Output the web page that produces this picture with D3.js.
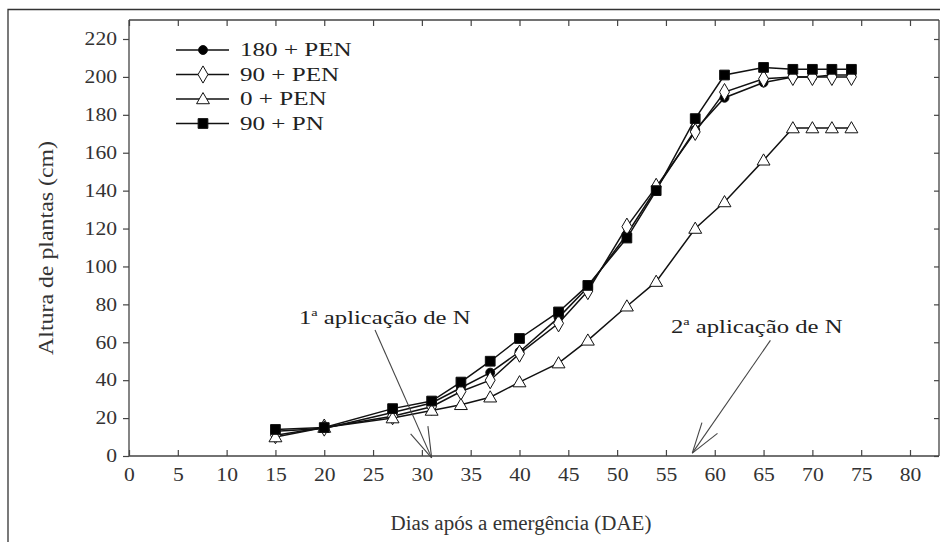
<!DOCTYPE html>
<html><head><meta charset="utf-8">
<script src="https://cdn.jsdelivr.net/npm/d3@7/dist/d3.min.js"></script>
<style>
html,body{margin:0;padding:0;background:#fff;}
svg{display:block;}
</style></head><body>
<svg id="c" width="940" height="542"></svg>
<script>
// ---- data ----
const days = [15,20,27,31,34,37,40,44,47,51,54,58,61,65,68,70,72,74];
const s180PEN = [13,14.5,23,28,36,44,55,73,89,117,141,172,189,197,200,200,201,201];
const s90PEN  = [11,15,21,26,34,40,54,70,87,121,142,171,192,199,200,200,200,200];
const s0PEN   = [10,15,20,24,27,31,39,49,61,79,92,120,134,156,173,173,173,173];
const s90PN   = [14,15,25,29,39,50,62,76,90,115,140,178,201,205,204,204,204,204];
const seriesNames = ["180 + PEN","90 + PEN","0 + PEN","90 + PN"];
const seriesMarkers = ["circle","diamond","triangle","square"];
const seriesFill = ["#000","#fff","#fff","#000"];
const xTicks = d3.range(0,81,5);
const yTicks = d3.range(0,221,20);
const annotations = [
  {label:"1", sup:"a", rest:" aplicação de N", tx:26.2, ty:69.6, fromX:25.2, fromY:66.5, toX:31, toY:-1},
  {label:"2", sup:"a", rest:" aplicação de N", tx:64.3, ty:65, fromX:65.7, fromY:61, toX:57.7, toY:1.5}
];

// ---- layout ----
const svg = d3.select("#c");
const x = d3.scaleLinear().domain([0,80]).range([129,910]);
const y = d3.scaleLinear().domain([0,220]).range([456,39]);
const pLeft = 129, pRight = 939, pTop = 20, pBottom = 456;
const FONT = '"Liberation Serif"';
function stretch(sel, f){
  sel.each(function(){
    const w = this.getComputedTextLength();
    if (w>0) d3.select(this).attr("textLength", w*f).attr("lengthAdjust","spacingAndGlyphs");
  });
}

// outer frame
svg.append("path").attr("d","M8,542 V9.5 H940").attr("fill","none").attr("stroke","#333").attr("stroke-width",1.3);

// plot box
const g = svg.append("g");
g.append("path").attr("d",`M${pLeft},${pTop} H${pRight} M${pLeft},${pTop} V${pBottom} H${pRight} M${pRight},${pTop} V${pBottom}`)
  .attr("fill","none").attr("stroke","#444").attr("stroke-width",1.3);

const xb = g.append("g").attr("transform",`translate(0,${pBottom})`)
  .call(d3.axisBottom(x).tickValues(xTicks).tickSize(-6).tickPadding(12).tickFormat(d3.format("d")));
const xt = g.append("g").attr("transform",`translate(0,${pTop})`)
  .call(d3.axisTop(x).tickValues(xTicks).tickSize(-6).tickFormat(""));
const yl = g.append("g").attr("transform",`translate(${pLeft},0)`)
  .call(d3.axisLeft(y).tickValues(yTicks).tickSize(6).tickPadding(6).tickFormat(d3.format("d")));
const yr = g.append("g").attr("transform",`translate(${pRight},0)`)
  .call(d3.axisRight(y).tickValues(yTicks).tickSize(-5).tickFormat(""));
[xb,xt,yl,yr].forEach(a=>{
  a.select(".domain").remove();
  a.selectAll(".tick line").attr("stroke","#444").attr("stroke-width",1.2);
  a.selectAll("text").style("font-family",FONT).style("font-size","18px").attr("fill","#333");
  stretch(a.selectAll("text"), 1.2);
});

// axis titles
const xtitle = svg.append("text").attr("x",521).attr("y",530).attr("text-anchor","middle")
  .style("font-family",FONT).style("font-size","20px").attr("fill","#333").text("Dias após a emergência (DAE)");
stretch(xtitle, 1.05);
svg.append("text").attr("transform","translate(53,248) rotate(-90)").attr("text-anchor","middle")
  .style("font-family",FONT).style("font-size","20px").attr("fill","#333")
  .attr("textLength",214).attr("lengthAdjust","spacingAndGlyphs").text("Altura de plantas (cm)");

function marker(sel, type, fill, cx, cy){
  const s = {circle:d3.symbolCircle, diamond:d3.symbolDiamond, triangle:d3.symbolTriangle, square:d3.symbolSquare}[type];
  const size = {circle:62, diamond:85, triangle:72, square:95}[type];
  sel.append("path").attr("d", d3.symbol().type(s).size(size)())
    .attr("transform",`translate(${cx},${cy + (type==="triangle"?1:0)})`)
    .attr("fill",fill).attr("stroke","#111").attr("stroke-width",1);
}

const allSeries = [s180PEN, s90PEN, s0PEN, s90PN];
const line = d3.line().x((d,i)=>x(days[i])).y(d=>y(d));
allSeries.forEach(vals=>{
  g.append("path").datum(vals).attr("d",line).attr("fill","none").attr("stroke","#111").attr("stroke-width",1.5);
});
allSeries.forEach((vals,k)=>{
  const mg = g.append("g");
  vals.forEach((v,i)=>marker(mg, seriesMarkers[k], seriesFill[k], x(days[i]), y(v)));
});

// legend
const leg = svg.append("g");
seriesNames.forEach((n,k)=>{
  const yy = 50 + k*24.5;
  leg.append("line").attr("x1",176).attr("x2",229).attr("y1",yy).attr("y2",yy).attr("stroke","#111").attr("stroke-width",1.5);
  marker(leg, seriesMarkers[k], seriesFill[k], 203, yy);
  const t = leg.append("text").attr("x",240).attr("y",yy+6).style("font-family",FONT).style("font-size","19px").attr("fill","#222").text(n);
  stretch(t, 1.32);
});

// annotations
annotations.forEach(a=>{
  const t = svg.append("text").attr("x",x(a.tx)).attr("y",y(a.ty)).attr("text-anchor","middle")
    .style("font-family",FONT).style("font-size","19px").attr("fill","#222");
  t.append("tspan").text(a.label);
  t.append("tspan").style("font-size","11px").attr("dy",-8).text(a.sup);
  t.append("tspan").attr("dy",8).text(a.rest);
  stretch(t, 1.3);
  const x1=x(a.fromX), y1=y(a.fromY), x2=x(a.toX), y2=y(a.toY);
  svg.append("line").attr("x1",x1).attr("y1",y1).attr("x2",x2).attr("y2",y2)
    .attr("stroke","#444").attr("stroke-width",1.1);
  const ang = Math.atan2(y1-y2, x1-x2);
  [-0.3,0.3].forEach(da=>{
    svg.append("line").attr("x1",x2).attr("y1",y2)
      .attr("x2",x2+32*Math.cos(ang+da)).attr("y2",y2+32*Math.sin(ang+da))
      .attr("stroke","#444").attr("stroke-width",1.1);
  });
});
</script>
</body></html>
